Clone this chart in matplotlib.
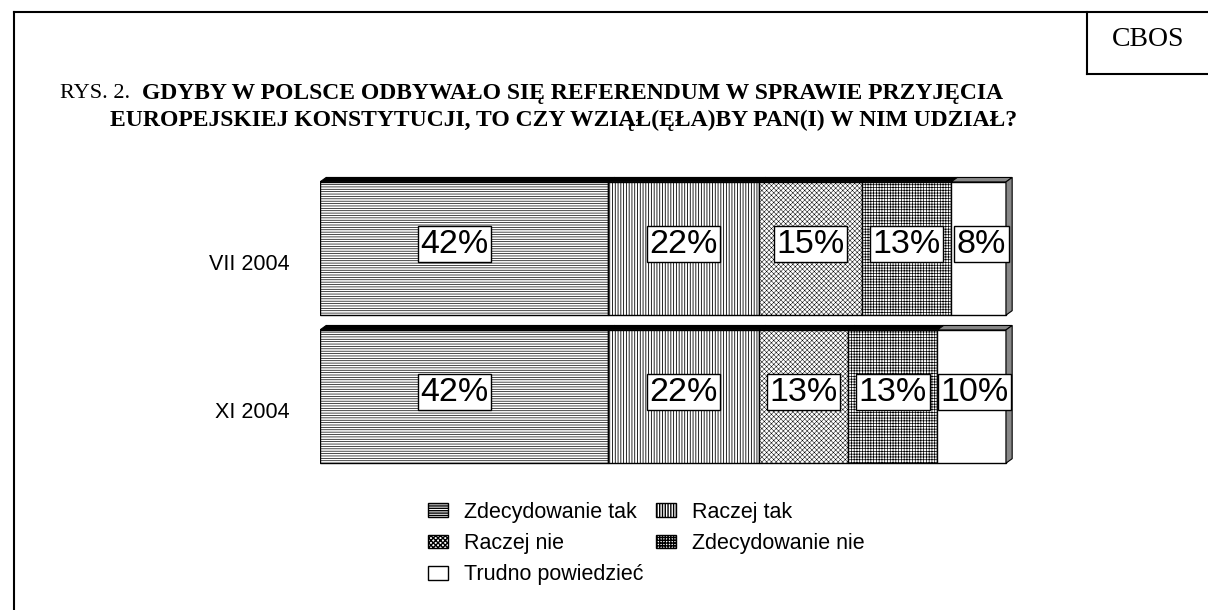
import matplotlib.pyplot as plt
import numpy as np
from matplotlib.patches import Patch

# dane z wykresu
okresy = ['VII 2004', 'XI 2004']
odpowiedzi = ['Zdecydowanie tak', 'Raczej tak', 'Raczej nie',
              'Zdecydowanie nie', 'Trudno powiedzieć']
vii_2004 = [42, 22, 15, 13, 8]
xi_2004 = [42, 22, 13, 13, 10]

wzory = ['-------', '||||||', 'xxxxxxx', '++++++', '']
grubosci = [0.5, 0.6, 0.35, 0.5, 0.6]

W, H = 1208, 610
fig = plt.figure(figsize=(W / 100, H / 100), dpi=100)

# ramka dokumentu i pole CBOS
fig.add_artist(plt.Line2D([14 / W, 14 / W], [0, 1 - 12 / H], color='black', lw=1.5))
fig.add_artist(plt.Line2D([14 / W, 1], [1 - 12 / H, 1 - 12 / H], color='black', lw=1.5))
fig.add_artist(plt.Line2D([1087 / W, 1087 / W], [1 - 12 / H, 1 - 74 / H], color='black', lw=1.5))
fig.add_artist(plt.Line2D([1087 / W, 1], [1 - 74 / H, 1 - 74 / H], color='black', lw=1.5))
fig.text(1148 / W, 1 - 39 / H, 'CBOS', ha='center', va='center',
         family='Liberation Serif', fontsize=20)

fig.text(60 / W, 1 - 93 / H, 'RYS. 2.', ha='left', va='center',
         family='Liberation Serif', fontsize=16)
fig.text(142 / W, 1 - 93 / H, 'GDYBY W POLSCE ODBYWAŁO SIĘ REFERENDUM W SPRAWIE PRZYJĘCIA',
         ha='left', va='center', family='Liberation Serif', fontsize=17, weight='bold')
fig.text(110 / W, 1 - 120 / H, 'EUROPEJSKIEJ KONSTYTUCJI, TO CZY WZIĄŁ(ĘŁA)BY PAN(I) W NIM UDZIAŁ?',
         ha='left', va='center', family='Liberation Serif', fontsize=17, weight='bold')

ax = fig.add_axes([320 / W, 1 - 480 / H, 700 / W, 320 / H])
ax.set_xlim(0, 700 / 6.86)
ax.set_ylim(1.564, -0.598)
ax.axis('off')

dane = np.array([vii_2004, xi_2004])
lewe = np.hstack([np.zeros((2, 1)), np.cumsum(dane, axis=1)[:, :-1]])
y = np.arange(len(okresy))
h = 0.9
dx, dy = 0.9, 0.03

for j, nazwa in enumerate(odpowiedzi):
    with plt.rc_context({'hatch.linewidth': grubosci[j]}):
        ax.barh(y, dane[:, j], left=lewe[:, j], height=h, color='white',
                edgecolor='black', hatch=wzory[j], lw=1, zorder=2)

for i in range(len(okresy)):
    gora = y[i] - h / 2
    dol = y[i] + h / 2
    for j in range(len(odpowiedzi)):
        x0 = lewe[i, j]
        x1 = x0 + dane[i, j]
        kolor = '#888888' if j == len(odpowiedzi) - 1 else 'black'
        ax.fill([x0, x1, x1 + dx, x0 + dx], [gora, gora, gora - dy, gora - dy],
                facecolor=kolor, edgecolor='black', lw=0.8, zorder=3)
        przes = -1.4 if j == 0 else (0.4 if j == 4 else 0)
        ax.text(x0 + dane[i, j] / 2 + przes, y[i] - 0.03,
                f'{dane[i, j]}%', ha='center', va='center',
                family='Liberation Sans', fontsize=24.5, zorder=5,
                bbox=dict(boxstyle='square,pad=0.08', fc='white', ec='black', lw=1))
    koniec = lewe[i, -1] + dane[i, -1]
    ax.fill([koniec, koniec + dx, koniec + dx, koniec],
            [gora, gora - dy, dol - dy, dol],
            facecolor='#888888', edgecolor='black', lw=0.8, zorder=3)
    ax.text(-30 / 6.86, y[i] + 0.11, okresy[i], ha='right', va='center',
            family='Liberation Sans', fontsize=15.5)

uchwyty = [Patch(facecolor='white', edgecolor='black', hatch=wzory[j], label=odpowiedzi[j])
           for j in range(len(odpowiedzi))]
kolejnosc = [0, 2, 4, 1, 3]
fig.legend([uchwyty[k] for k in kolejnosc], [odpowiedzi[k] for k in kolejnosc],
           ncol=2, loc='upper left', bbox_to_anchor=(417 / W, 1 - 491 / H),
           frameon=False, prop={'family': 'Liberation Sans', 'size': 15.5},
           handlelength=0.95, handleheight=0.6, handletextpad=0.75,
           columnspacing=0.55, labelspacing=0.48, borderpad=0)

fig.savefig('out.png', dpi=100)
